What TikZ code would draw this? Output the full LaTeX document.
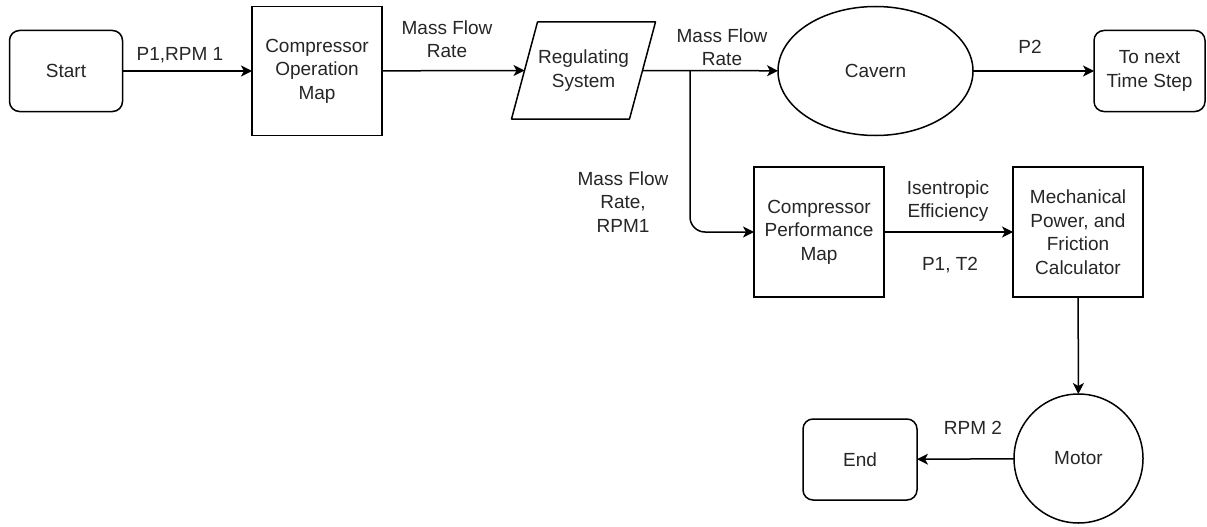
\documentclass[tikz,border=0pt]{standalone}
\usepackage{fontspec}
\setmainfont{Liberation Sans}
\usetikzlibrary{arrows.meta,shapes.geometric}
\begin{document}
\begin{tikzpicture}[x=1pt,y=-1pt,
  font=\fontsize{19}{23.5}\selectfont,
  every node/.style={text=black!85, inner sep=0pt, outer sep=0pt},
  box/.style={draw, line width=1.5pt, minimum width=130pt, minimum height=129pt, align=center},
  term/.style={draw, line width=1.5pt, rounded corners=10pt, minimum width=113pt, minimum height=81pt, align=center},
  lbl/.style={align=center},
  conn/.style={line width=1.5pt, -{Stealth[length=11pt,width=11pt,inset=3pt]}}
]
\useasboundingbox (0,0) rectangle (1207,527);
\fill[white] (0,0) rectangle (1207,527);

\node[term] (start) at (66,71) {Start};
\node[box] (com) at (317,71) {Compressor\\Operation\\Map};
\node[align=center, minimum width=118pt, minimum height=97pt] (rs) at (583.5,70.5) {Regulating\\System};
\draw[line width=1.5pt, line join=round]
  ([xshift=-13pt]rs.south west) -- ([xshift=-13pt]rs.south east)
  -- ([xshift=13pt]rs.north east) -- ([xshift=13pt]rs.north west) -- cycle;
\node[draw, ellipse, line width=1.5pt, minimum width=195pt, minimum height=129pt] (cav) at (875.5,71) {Cavern};
\node[term, minimum width=111pt] (next) at (1149.5,71) {To next\\Time Step};
\node[box, minimum height=130pt] (cpm) at (819,232) {Compressor\\Performance\\Map};
\node[box, minimum height=130pt] (mpf) at (1078,232) {Mechanical\\Power, and\\Friction\\Calculator};
\node[draw, circle, line width=1.5pt, minimum size=129pt] (motor) at (1078.5,458.5) {Motor};
\node[term, minimum width=114pt] (end) at (860,459.5) {End};

\coordinate (br) at (690,71);

\draw[conn] (start) -- (com);
\draw[conn] (com) -- (rs.west);
\draw[conn] (rs.east) -- (cav);
\draw[conn] (cav) -- (next);
\draw[conn, rounded corners=15pt] (br) |- (cpm.west);
\draw[conn] (cpm) -- (mpf);
\draw[conn] (mpf) -- (motor);
\draw[conn] (motor) -- (end);

\node[lbl] (l1) at (180,55) {P1,RPM 1};
\node[lbl] (l2) at (447,39) {Mass Flow\\Rate};
\node[lbl] (l3) at (722,47) {Mass Flow\\Rate};
\node[lbl] (l4) at (1030,47) {P2};
\node[lbl] (l5) at (623,202) {Mass Flow\\Rate,\\RPM1};
\node[lbl] (l6) at (948,201) {Isentropic\\Efficiency};
\node[lbl] (l7) at (950,265) {P1, T2};
\node[lbl] (l8) at (973,428) {RPM 2};
\end{tikzpicture}
\end{document}
